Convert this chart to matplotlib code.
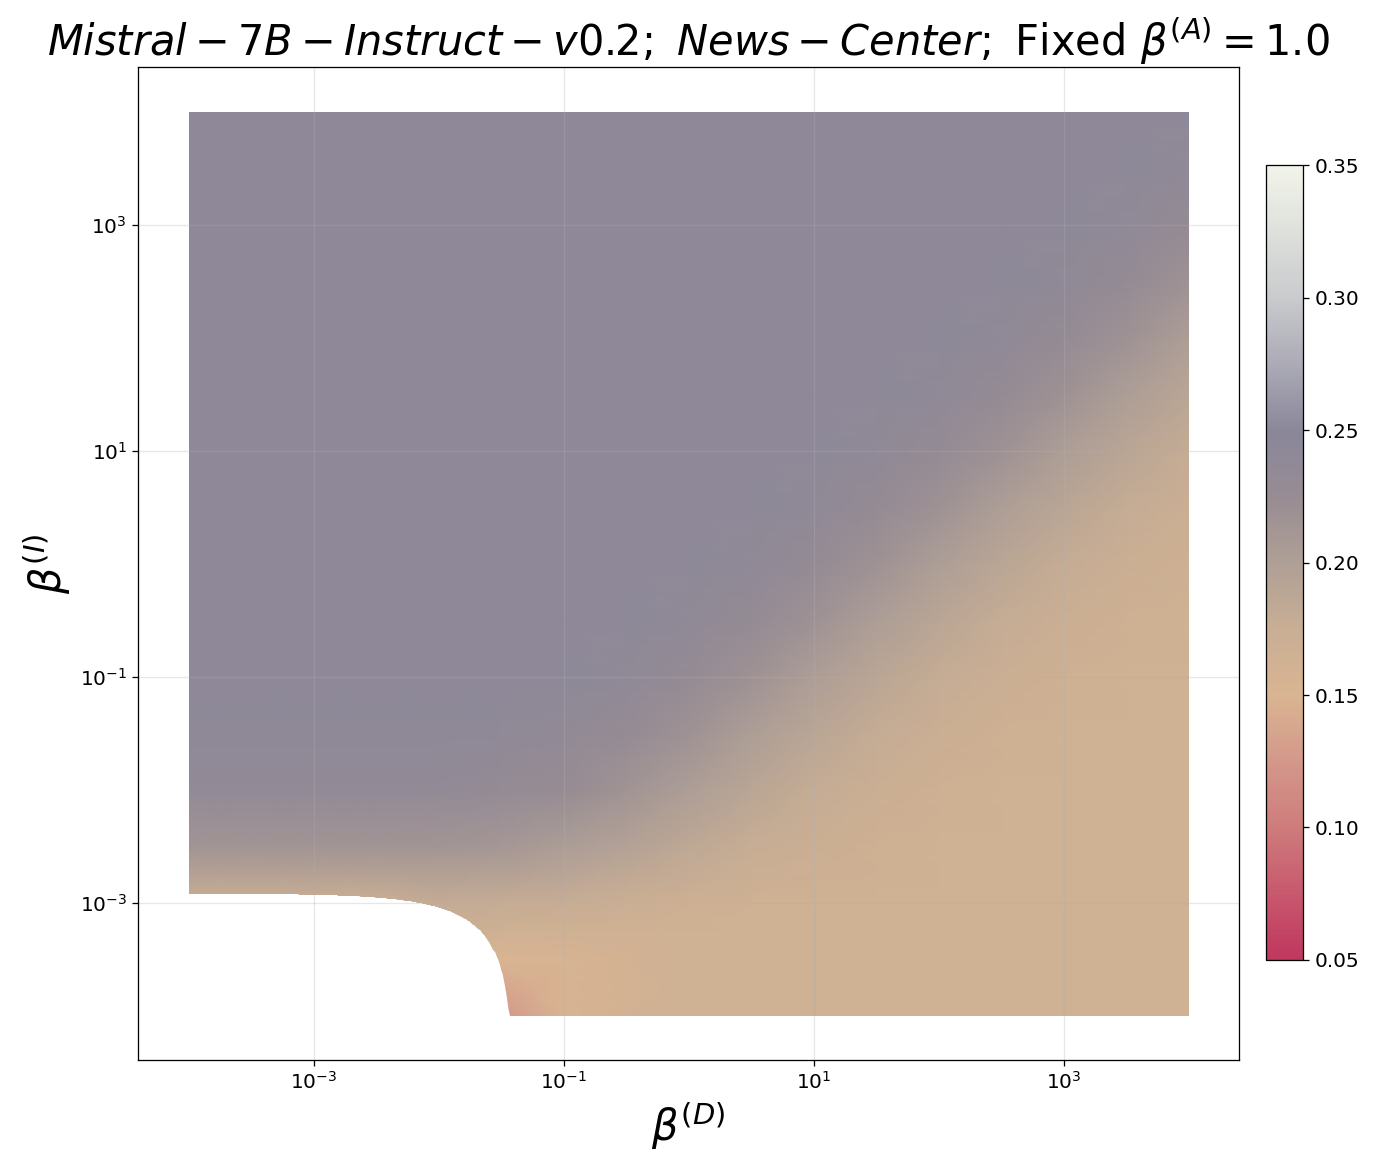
import matplotlib
matplotlib.use('Agg')
import matplotlib.pyplot as plt
from matplotlib.colors import LinearSegmentedColormap
from matplotlib.path import Path
import numpy as np

# grid nodes (log10 of beta values)
beta_d_exp = [-4.0, -3.5, -3.0, -2.5, -2.0, -1.5, -1.0, -0.5, 0.0,
              0.5, 1.0, 1.5, 2.0, 2.5, 3.0, 3.5, 4.0]
beta_i_exp = [4.0, 3.5, 3.0, 2.5, 2.0, 1.5, 1.0, 0.5, 0.0,
              -0.5, -1.0, -1.5, -2.0, -2.5, -3.0, -3.5, -4.0]

# score, one row per beta_I (top to bottom)
score_rows = [
    [.243, .243, .243, .243, .243, .243, .243, .243, .243, .243, .243, .243, .243, .243, .243, .243, .242],
    [.243, .243, .243, .243, .243, .243, .243, .243, .243, .243, .243, .243, .243, .243, .243, .242, .238],
    [.243, .243, .243, .243, .243, .243, .243, .243, .243, .243, .243, .243, .243, .243, .242, .238, .230],
    [.243, .243, .243, .243, .243, .243, .243, .243, .243, .243, .243, .243, .243, .242, .238, .230, .217],
    [.243, .243, .243, .243, .243, .243, .243, .243, .243, .243, .243, .243, .242, .238, .230, .217, .202],
    [.243, .243, .243, .243, .243, .243, .243, .243, .243, .243, .243, .242, .238, .230, .217, .202, .189],
    [.243, .243, .243, .243, .243, .243, .243, .243, .243, .243, .242, .238, .230, .217, .202, .189, .178],
    [.243, .243, .243, .243, .243, .243, .243, .243, .243, .242, .238, .230, .217, .202, .189, .178, .171],
    [.243, .243, .243, .243, .243, .243, .243, .243, .242, .238, .230, .217, .202, .189, .178, .171, .167],
    [.243, .243, .243, .243, .243, .243, .243, .242, .238, .230, .217, .202, .189, .178, .171, .167, .166],
    [.243, .243, .243, .243, .243, .243, .242, .238, .230, .217, .202, .189, .178, .171, .167, .166, .165],
    [.241, .241, .241, .241, .240, .239, .235, .229, .217, .202, .189, .178, .171, .167, .166, .165, .165],
    [.235, .235, .235, .235, .234, .231, .225, .215, .202, .189, .178, .171, .167, .166, .165, .165, .165],
    [.215, .215, .215, .215, .213, .210, .203, .195, .185, .176, .171, .167, .166, .165, .165, .165, .165],
    [.172, .172, .172, .172, .180, .178, .176, .170, .167, .166, .165, .165, .165, .165, .165, .165, .165],
    [.165, .165, .165, .165, .160, .150, .153, .160, .164, .165, .165, .165, .165, .165, .165, .165, .165],
    [.150, .150, .150, .150, .150, .125, .152, .160, .164, .165, .165, .165, .165, .165, .165, .165, .165],
]

# colour scale as seen on the colorbar
cbar_levels = [0.05, 0.075, 0.10, 0.125, 0.15, 0.175, 0.20, 0.225, 0.25, 0.275, 0.30, 0.325, 0.35]
cbar_colors = ['#C0375F', '#C8596E', '#CE7C7C', '#D4988A', '#D9B592', '#C8AE94', '#AF9F96',
               '#978C93', '#8A879A', '#ABAAB6', '#C9CACD', '#DEE0DC', '#F1F4EA']

VMIN, VMAX = 0.05, 0.35
cmap = LinearSegmentedColormap.from_list(
    'score', [((v - VMIN) / (VMAX - VMIN), c) for v, c in zip(cbar_levels, cbar_colors)])

DPI = 115
fig = plt.figure(figsize=(1381 / DPI, 1173 / DPI), dpi=DPI)
ax = fig.add_axes([0.0999, 0.0963, 0.7973, 0.8466])
cax = fig.add_axes([0.9167, 0.1816, 0.0268, 0.6777])

X, Y = np.meshgrid(10.0 ** np.array(beta_d_exp), 10.0 ** np.array(beta_i_exp))
Z = np.array(score_rows)

ax.set_xscale('log')
ax.set_yscale('log')
mesh = ax.pcolormesh(X, Y, Z, shading='gouraud', cmap=cmap, vmin=VMIN, vmax=VMAX)

# region where the run is defined: beta_D + 33 beta_I >= 0.04
xs = np.geomspace(1e-4, 0.04 - 33e-4, 300)
ys = (0.04 - xs) / 33
verts = [(1e-4, 1e4)] + list(zip(xs, ys)) + [(1e4, 1e-4), (1e4, 1e4), (1e-4, 1e4)]
clip = Path(verts, closed=True)
mesh.set_clip_path(clip, transform=ax.transData)

ax.set_xlim(10 ** -4.408, 10 ** 4.4)
ax.set_ylim(10 ** -4.39, 10 ** 4.4)
ax.set_xticks([1e-3, 1e-1, 1e1, 1e3])
ax.set_yticks([1e-3, 1e-1, 1e1, 1e3])
ax.minorticks_off()
ax.grid(True, alpha=0.3)
ax.tick_params(labelsize=12.5)

ax.set_title(r'$Mistral-7B-Instruct-v0.2;\ News-Center;\ $Fixed $\beta^{(A)}=1.0$',
             fontsize=26)
ax.set_xlabel(r'$\beta^{(D)}$', fontsize=26)
ax.set_ylabel(r'$\beta^{(I)}$', fontsize=26)

cb = fig.colorbar(mesh, cax=cax)
cb.set_ticks([0.05, 0.10, 0.15, 0.20, 0.25, 0.30, 0.35])
cb.ax.tick_params(labelsize=12.5)

fig.savefig('out.png', dpi=DPI)
plt.close(fig)
